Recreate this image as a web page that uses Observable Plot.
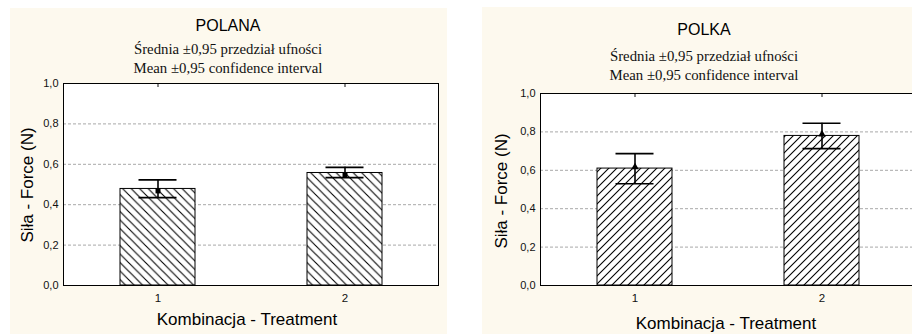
<!DOCTYPE html>
<html><head><meta charset="utf-8">
<script src="https://cdn.jsdelivr.net/npm/d3@7"></script>
<script src="https://cdn.jsdelivr.net/npm/@observablehq/plot@0.6"></script>
<style>
body{margin:0;background:#fff;}
#root{position:relative;width:912px;height:334px;overflow:hidden;}
.panel{position:absolute;background:#fdf9ee;}
.t{position:absolute;transform:translate(-50%,-50%);white-space:nowrap;color:#000;line-height:1;}
.title{font-size:16px;font-family:"Liberation Sans",Arial,sans-serif;}
.sub{font-size:14.8px;font-family:"Liberation Serif","Times New Roman",serif;color:#111;}
.lab{font-size:17px;font-family:"Liberation Sans",Arial,sans-serif;}
.rot{transform:translate(-50%,-50%) rotate(-90deg);}
#root svg{position:absolute;overflow:visible;}
</style></head><body><div id="root"></div>
<script>
// ---- data ----
const treatments = ["1", "2"];
const polanaMean = [0.478, 0.557];
const polanaLow  = [0.435, 0.534];
const polanaHigh = [0.523, 0.585];
const polkaMean  = [0.609, 0.779];
const polkaLow   = [0.530, 0.713];
const polkaHigh  = [0.687, 0.845];
const yTicks = [0, 0.2, 0.4, 0.6, 0.8, 1.0];
const gridTicks = [0.2, 0.4, 0.6, 0.8];
const titles = ["POLANA", "POLKA"];
const subtitle1 = "Średnia ±0,95 przedział ufności";
const subtitle2 = "Mean ±0,95 confidence interval";
const yLabel = "Siła - Force (N)";
const xLabel = "Kombinacja - Treatment";

const root = document.getElementById("root");

function addText(cls, text, cx, cy) {
  const d = document.createElement("div");
  d.className = "t " + cls;
  d.textContent = text;
  d.style.left = cx + "px";
  d.style.top = cy + "px";
  root.appendChild(d);
}

function panel(cfg) {
  const p = document.createElement("div");
  p.className = "panel";
  Object.assign(p.style, {left: cfg.left + "px", top: cfg.top + "px", width: cfg.pw + "px", height: cfg.ph + "px"});
  root.appendChild(p);

  const data = treatments.map((t, i) => ({t, mean: cfg.mean[i], low: cfg.low[i], high: cfg.high[i]}));
  const svg = Plot.plot({
    width: cfg.width, height: cfg.height,
    marginLeft: cfg.ml, marginRight: cfg.mr, marginTop: cfg.mt, marginBottom: cfg.mb,
    style: {background: "transparent", fontFamily: "'Liberation Sans', Arial, sans-serif", color: "#111"},
    x: {type: "band", domain: treatments, paddingInner: 0.6, paddingOuter: 0.3, axis: null},
    y: {domain: [0, 1], axis: null},
    marks: [
      Plot.frame({fill: "white", stroke: null}),
      Plot.gridY(gridTicks, {stroke: "#a8a8a8", strokeOpacity: 1, strokeDasharray: "3,2"}),
      Plot.barY(data, {x: "t", y: "mean", fill: `url(#${cfg.id})`, stroke: "black", strokeWidth: 1}),
      Plot.ruleX(data, {x: "t", y1: "low", y2: "high", stroke: "black", strokeWidth: 1.6}),
      Plot.tickY(data, {x: "t", y: "low", insetLeft: 18.5, insetRight: 18.5, stroke: "black", strokeWidth: 1.6}),
      Plot.tickY(data, {x: "t", y: "high", insetLeft: 18.5, insetRight: 18.5, stroke: "black", strokeWidth: 1.6}),
      Plot.dot(data, {x: "t", y: "mean", symbol: cfg.symbol, r: cfg.r, fill: "black", stroke: null, dy: cfg.dy}),
      Plot.frame({stroke: "black", strokeWidth: 1}),
      Plot.axisY(yTicks, {tickSize: 0, tickPadding: 5, tickFormat: d => d.toFixed(1).replace(".", ","), label: null, fontSize: 11}),
      Plot.axisX({tickSize: 0, tickPadding: 8, label: null, fontSize: 11.5}),
      Plot.axisX({anchor: "top", tickSize: -3, tickFormat: () => "", label: null})
    ]
  });
  const ns = "http://www.w3.org/2000/svg";
  const s = cfg.spacing;
  const defs = document.createElementNS(ns, "defs");
  const pat = document.createElementNS(ns, "pattern");
  pat.setAttribute("id", cfg.id);
  pat.setAttribute("patternUnits", "userSpaceOnUse");
  pat.setAttribute("width", s);
  pat.setAttribute("height", s);
  const bg = document.createElementNS(ns, "rect");
  bg.setAttribute("width", s); bg.setAttribute("height", s); bg.setAttribute("fill", "white");
  pat.appendChild(bg);
  const path = document.createElementNS(ns, "path");
  const dPath = cfg.dir === "back"
    ? `M0,0L${s},${s}M${-s/2},${s/2}L${s/2},${s*1.5}M${s/2},${-s/2}L${s*1.5},${s/2}`
    : `M0,${s}L${s},0M${-s/2},${s/2}L${s/2},${-s/2}M${s/2},${s*1.5}L${s*1.5},${s/2}`;
  path.setAttribute("d", dPath);
  path.setAttribute("stroke", "black");
  path.setAttribute("stroke-width", "1.1");
  pat.appendChild(path);
  defs.appendChild(pat);
  svg.insertBefore(defs, svg.firstChild);
  svg.style.left = cfg.left + "px";
  svg.style.top = cfg.top + "px";
  root.appendChild(svg);

  addText("title", cfg.title, cfg.tx, cfg.ty);
  addText("sub", subtitle1, cfg.tx, cfg.s1y);
  addText("sub", subtitle2, cfg.tx, cfg.s2y);
  addText("lab rot", yLabel, cfg.ylx, cfg.yly);
  addText("lab", xLabel, cfg.xlx, cfg.xly);
}

panel({
  id: "hatchL", dir: "back", spacing: 8.5, symbol: "square", r: 2.8, dy: 2,
  left: 10, top: 8, pw: 437, ph: 326, width: 437, height: 326,
  ml: 53, mr: 9, mt: 75, mb: 49,
  mean: polanaMean, low: polanaLow, high: polanaHigh,
  title: titles[0], tx: 228, ty: 26, s1y: 48.5, s2y: 67.5,
  ylx: 27, yly: 185, xlx: 247, xly: 319
});

panel({
  id: "hatchR", dir: "fwd", spacing: 8, symbol: "triangle", r: 2.8, dy: -1.5,
  left: 482, top: 7, pw: 450, ph: 327, width: 442, height: 327,
  ml: 58, mr: 9, mt: 86, mb: 49,
  mean: polkaMean, low: polkaLow, high: polkaHigh,
  title: titles[1], tx: 704, ty: 29.5, s1y: 56, s2y: 75,
  ylx: 501, yly: 191, xlx: 726, xly: 322.5
});
</script>
</body></html>
